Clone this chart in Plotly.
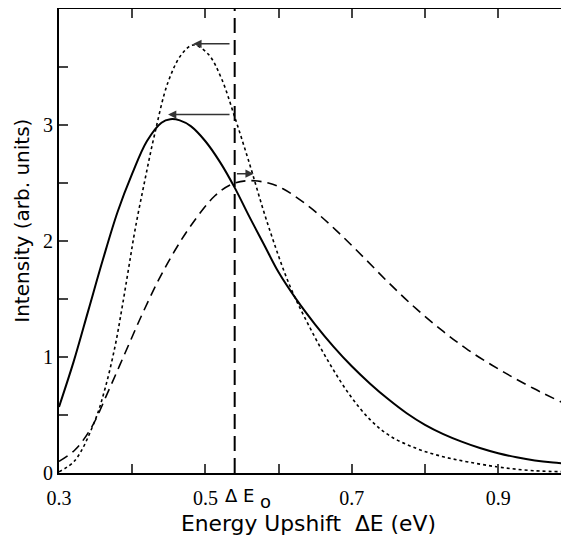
import plotly.graph_objects as go

# ---- data ----
solid_x = [0.300, 0.320, 0.340, 0.360, 0.380, 0.400, 0.420, 0.440, 0.452, 0.465, 0.480,
           0.500, 0.520, 0.540, 0.560, 0.580, 0.600, 0.625, 0.650, 0.675, 0.700, 0.725,
           0.750, 0.775, 0.800, 0.825, 0.850, 0.875, 0.900, 0.925, 0.950, 0.975, 1.000]
solid_y = [0.57, 0.96, 1.40, 1.84, 2.25, 2.58, 2.86, 3.02, 3.05, 3.04, 2.99,
           2.86, 2.68, 2.46, 2.21, 1.97, 1.73, 1.49, 1.28, 1.09, 0.92, 0.77,
           0.635, 0.515, 0.415, 0.335, 0.27, 0.215, 0.17, 0.135, 0.108, 0.09, 0.078]

dotted_x = [0.300, 0.322, 0.349, 0.363, 0.3765, 0.386, 0.395, 0.404, 0.4175, 0.431, 0.449,
            0.4676, 0.4835, 0.504, 0.522, 0.540, 0.5586, 0.586, 0.6156, 0.643, 0.670,
            0.6975, 0.725, 0.752, 0.789, 0.825, 0.859, 0.902, 0.948, 1.000]
dotted_y = [0.01, 0.11, 0.45, 0.73, 1.09, 1.42, 1.76, 2.10, 2.53, 2.93, 3.37,
            3.61, 3.69, 3.61, 3.40, 3.07, 2.70, 2.13, 1.61, 1.25, 0.94,
            0.67, 0.46, 0.32, 0.21, 0.14, 0.095, 0.05, 0.02, 0.01]

dashed_x = [0.300, 0.322, 0.345, 0.367, 0.390, 0.413, 0.4357, 0.4585, 0.481, 0.513, 0.536,
            0.5586, 0.586, 0.606, 0.643, 0.679, 0.716, 0.752, 0.789, 0.825, 0.859,
            0.902, 0.948, 1.000]
dashed_y = [0.10, 0.20, 0.40, 0.70, 1.03, 1.36, 1.66, 1.92, 2.14, 2.39, 2.49,
            2.52, 2.50, 2.45, 2.29, 2.09, 1.86, 1.63, 1.41, 1.22, 1.06,
            0.89, 0.73, 0.57]

e0_x = [0.54, 0.54]
e0_y = [0.0, 4.0]

# arrows: head and tail positions (data units)
arrow_head_x = [0.4835, 0.449, 0.566]
arrow_head_y = [3.70, 3.09, 2.58]
arrow_tail_x = [0.535, 0.535, 0.541]
arrow_tail_y = [3.70, 3.09, 2.58]

x_title = "Energy Upshift  \u0394E (eV)"
y_title = "Intensity (arb. units)"

# page has an 8px body margin: figure is sized/offset to compensate
fig = go.Figure()
fig.add_trace(go.Scatter(x=solid_x, y=solid_y, mode="lines",
                         line=dict(color="black", width=2, shape="spline", smoothing=1),
                         showlegend=False))
fig.add_trace(go.Scatter(x=dotted_x, y=dotted_y, mode="lines",
                         line=dict(color="black", width=1.6, dash="dot", shape="spline", smoothing=1),
                         showlegend=False))
fig.add_trace(go.Scatter(x=dashed_x, y=dashed_y, mode="lines",
                         line=dict(color="black", width=1.6, dash="10px,6px", shape="spline", smoothing=1),
                         showlegend=False))
fig.add_trace(go.Scatter(x=e0_x, y=e0_y, mode="lines",
                         line=dict(color="black", width=2, dash="15px,7px"), showlegend=False))
fig.add_trace(go.Scatter(x=[None], y=[None], yaxis="y2", mode="lines", showlegend=False,
                         hoverinfo="skip"))

for hx, hy, tx, ty in zip(arrow_head_x, arrow_head_y, arrow_tail_x, arrow_tail_y):
    fig.add_annotation(x=hx, y=hy, ax=tx, ay=ty, xref="x", yref="y", axref="x", ayref="y",
                       text="", showarrow=True, arrowhead=2, arrowsize=1.1, arrowwidth=1.5,
                       arrowcolor="#333")

sans = "DejaVu Sans"
fig.add_annotation(x=0.524, y=0, xref="x", yref="y", xanchor="left", yanchor="middle",
                   yshift=-22, text="\u0394 E", showarrow=False,
                   font=dict(family=sans, size=18, color="black"))
fig.add_annotation(x=0.5719, y=0, xref="x", yref="y", xanchor="left", yanchor="middle",
                   yshift=-28, text="o", showarrow=False,
                   font=dict(family=sans, size=18, color="black"))
fig.add_annotation(x=0.6415, y=0, xref="x", yref="y", xanchor="center", yanchor="middle",
                   yshift=-50, text=x_title, showarrow=False,
                   font=dict(family=sans, size=21.8, color="black"))
fig.add_annotation(x=0.3, y=2.175, xref="x", yref="y", xanchor="center", yanchor="middle",
                   xshift=-37, text=y_title, textangle=-90, showarrow=False,
                   font=dict(family=sans, size=20, color="black"))

tickfont = dict(family="Times New Roman", size=20, color="black")

fig.update_layout(
    width=561, height=536,
    margin=dict(l=51, r=0, t=1, b=71),
    paper_bgcolor="white", plot_bgcolor="white",
    xaxis=dict(range=[0.3, 0.3 + 510 / 732], tick0=0.3, dtick=0.2,
               ticks="inside", ticklen=9, tickwidth=1.5, tickcolor="#444",
               minor=dict(dtick=0.1, tick0=0.3, ticks="inside", ticklen=9, tickwidth=1.5,
                          tickcolor="#444", showgrid=False),
               showline=True, linecolor="black", linewidth=2, mirror="ticks",
               showgrid=False, zeroline=False, tickfont=tickfont, ticklabelstandoff=6),
    yaxis=dict(range=[0, 4], tick0=0, dtick=1,
               ticks="inside", ticklen=9, tickwidth=1.5, tickcolor="#444",
               minor=dict(dtick=0.5, tick0=0, ticks="inside", ticklen=9, tickwidth=1.5,
                          tickcolor="#444", showgrid=False),
               showline=True, linecolor="black", linewidth=2, mirror=False,
               showgrid=False, zeroline=False, tickfont=tickfont),
    yaxis2=dict(range=[0, 4], overlaying="y", side="right", tick0=0, dtick=0.5,
                showticklabels=False, ticks="inside", ticklen=7, tickwidth=1.5,
                tickcolor="#444", showline=False, showgrid=False, zeroline=False),
)

fig.write_html("out.html")
